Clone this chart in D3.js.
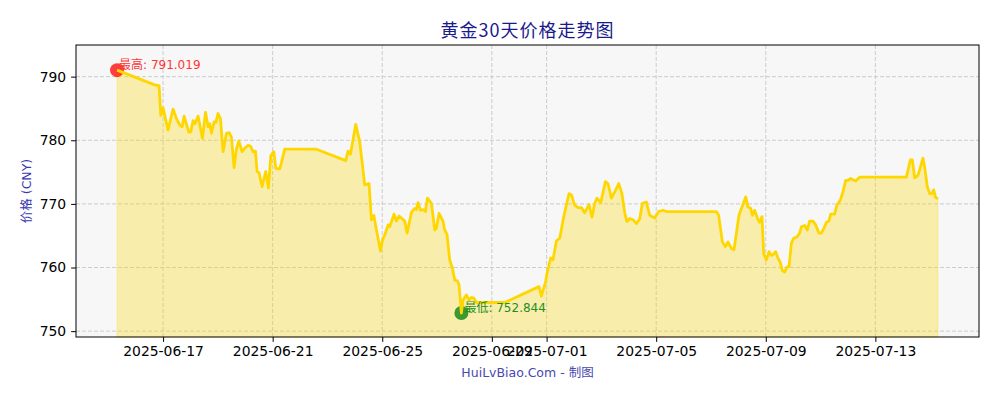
<!DOCTYPE html>
<html>
<head>
<meta charset="utf-8">
<script src="https://cdn.jsdelivr.net/npm/d3@7"></script>
<style>
  body { margin: 0; background: #fff; }
  svg { display: block; }
  .tick text { font-family: "DejaVu Sans", sans-serif; font-size: 13.9px; fill: #000; }
</style>
</head>
<body>
<svg width="1000" height="400"></svg>
<script>
const times = [
  "2025-06-15 07:40", "2025-06-16 16:40", "2025-06-16 20:30", "2025-06-16 22:00", "2025-06-17 00:00",
  "2025-06-17 04:20", "2025-06-17 08:45", "2025-06-17 11:45", "2025-06-17 14:40", "2025-06-17 16:40",
  "2025-06-17 18:25", "2025-06-17 22:30", "2025-06-18 00:15", "2025-06-18 02:15", "2025-06-18 03:45",
  "2025-06-18 06:40", "2025-06-18 10:30", "2025-06-18 13:10", "2025-06-18 15:25", "2025-06-18 16:55",
  "2025-06-18 18:25", "2025-06-18 20:40", "2025-06-18 22:10", "2025-06-19 00:10", "2025-06-19 02:15",
  "2025-06-19 04:35", "2025-06-19 07:30", "2025-06-19 09:50", "2025-06-19 11:55", "2025-06-19 14:10",
  "2025-06-19 16:15", "2025-06-19 18:20", "2025-06-19 21:10", "2025-06-19 23:20", "2025-06-20 02:25",
  "2025-06-20 04:35", "2025-06-20 06:50", "2025-06-20 08:55", "2025-06-20 10:20", "2025-06-20 12:05",
  "2025-06-20 14:45", "2025-06-20 17:55", "2025-06-20 20:20", "2025-06-20 22:20", "2025-06-21 01:00",
  "2025-06-21 02:45", "2025-06-21 06:15", "2025-06-21 10:35", "2025-06-22 14:20", "2025-06-23 16:00",
  "2025-06-23 18:00", "2025-06-23 20:10", "2025-06-24 00:45", "2025-06-24 04:15", "2025-06-24 08:40",
  "2025-06-24 12:25", "2025-06-24 14:30", "2025-06-24 16:35", "2025-06-24 18:55", "2025-06-24 22:25",
  "2025-06-25 00:10", "2025-06-25 02:50", "2025-06-25 05:05", "2025-06-25 06:35", "2025-06-25 10:20",
  "2025-06-25 12:25", "2025-06-25 14:45", "2025-06-25 19:45", "2025-06-25 21:45", "2025-06-26 01:35",
  "2025-06-26 04:30", "2025-06-26 05:55", "2025-06-26 07:20", "2025-06-26 09:30", "2025-06-26 11:45",
  "2025-06-26 13:50", "2025-06-26 15:35", "2025-06-26 19:05", "2025-06-26 22:00", "2025-06-26 23:30",
  "2025-06-27 01:45", "2025-06-27 05:15", "2025-06-27 06:45", "2025-06-27 08:45", "2025-06-27 11:05",
  "2025-06-27 13:30", "2025-06-27 15:30", "2025-06-27 17:50", "2025-06-27 19:15", "2025-06-27 21:20",
  "2025-06-27 22:45", "2025-06-28 01:45", "2025-06-28 04:00", "2025-06-28 06:10", "2025-06-28 08:10",
  "2025-06-28 10:30", "2025-06-29 11:20", "2025-06-30 17:20", "2025-06-30 19:25", "2025-06-30 23:10",
  "2025-07-01 00:20", "2025-07-01 03:35", "2025-07-01 05:35", "2025-07-01 08:35", "2025-07-01 11:30",
  "2025-07-01 15:00", "2025-07-01 19:35", "2025-07-01 21:45", "2025-07-02 00:35", "2025-07-02 03:30",
  "2025-07-02 06:30", "2025-07-02 09:20", "2025-07-02 13:10", "2025-07-02 15:45", "2025-07-02 18:10",
  "2025-07-02 20:10", "2025-07-02 23:25", "2025-07-03 03:30", "2025-07-03 05:45", "2025-07-03 08:45",
  "2025-07-03 11:40", "2025-07-03 15:10", "2025-07-03 18:00", "2025-07-03 20:25", "2025-07-03 22:25",
  "2025-07-04 00:45", "2025-07-04 03:40", "2025-07-04 06:40", "2025-07-04 09:30", "2025-07-04 11:55",
  "2025-07-04 15:25", "2025-07-04 18:20", "2025-07-04 22:40", "2025-07-05 02:10", "2025-07-05 05:55",
  "2025-07-05 08:55", "2025-07-07 04:45", "2025-07-07 06:45", "2025-07-07 10:00", "2025-07-07 12:35",
  "2025-07-07 14:55", "2025-07-07 17:50", "2025-07-07 20:10", "2025-07-08 00:30", "2025-07-08 06:25",
  "2025-07-08 08:25", "2025-07-08 10:45", "2025-07-08 12:15", "2025-07-08 14:15", "2025-07-08 17:10",
  "2025-07-08 18:40", "2025-07-08 20:40", "2025-07-08 22:10", "2025-07-09 00:30", "2025-07-09 02:50",
  "2025-07-09 04:55", "2025-07-09 06:20", "2025-07-09 08:40", "2025-07-09 10:40", "2025-07-09 12:45",
  "2025-07-09 14:30", "2025-07-09 16:35", "2025-07-09 18:35", "2025-07-09 20:20", "2025-07-09 22:25",
  "2025-07-10 00:25", "2025-07-10 03:20", "2025-07-10 05:40", "2025-07-10 07:10", "2025-07-10 10:05",
  "2025-07-10 12:25", "2025-07-10 14:25", "2025-07-10 17:20", "2025-07-10 19:40", "2025-07-10 22:35",
  "2025-07-11 00:40", "2025-07-11 03:00", "2025-07-11 05:05", "2025-07-11 07:20", "2025-07-11 08:50",
  "2025-07-11 12:20", "2025-07-11 14:20", "2025-07-11 17:20", "2025-07-11 19:35", "2025-07-11 22:00",
  "2025-07-12 00:00", "2025-07-12 02:20", "2025-07-12 04:20", "2025-07-12 06:45", "2025-07-12 10:15",
  "2025-07-14 03:10", "2025-07-14 06:40", "2025-07-14 08:25", "2025-07-14 10:25", "2025-07-14 13:20",
  "2025-07-14 14:45", "2025-07-14 17:40", "2025-07-14 19:10", "2025-07-14 21:30", "2025-07-14 23:35",
  "2025-07-15 01:35", "2025-07-15 03:05", "2025-07-15 04:50", "2025-07-15 06:50"
];

const prices = [
  791.019, 788.7, 788.6, 783.9, 785.1, 781.6, 784.9, 783.4, 782.4, 782.1,
  783.8, 781.3, 781.3, 783.1, 782.6, 783.8, 780.3, 784.4, 782.1, 782.6,
  781.1, 782.9, 782.8, 784.2, 783.4, 778.2, 781.1, 781.2, 780.5, 775.7,
  778.6, 779.9, 778.2, 778.7, 779.2, 779.1, 778.2, 778.3, 775.1, 774.9,
  772.7, 775.1, 772.5, 777.6, 778.2, 775.6, 775.5, 778.6, 778.6, 776.8,
  778.3, 777.8, 782.5, 779.8, 773.0, 773.2, 767.5, 768.2, 765.9, 762.6,
  764.3, 765.4, 766.7, 766.4, 768.4, 767.3, 768.1, 767.3, 765.4, 768.7,
  769.3, 769.1, 770.2, 769.0, 769.1, 768.8, 770.9, 770.1, 765.9, 766.2,
  768.5, 767.3, 765.9, 765.2, 761.2, 759.9, 758.0, 757.9, 757.3, 752.844,
  754.9, 755.7, 754.9, 755.3, 755.2, 754.5, 754.5, 757.0, 755.5, 757.8,
  759.1, 761.5, 761.2, 764.2, 764.6, 768.0, 771.6, 771.4, 769.8, 769.4,
  769.4, 768.6, 769.9, 767.9, 770.1, 770.9, 770.2, 773.5, 773.2, 770.9,
  771.9, 773.2, 771.6, 768.6, 767.2, 767.7, 767.5, 766.9, 767.6, 770.1,
  770.3, 768.2, 767.8, 768.8, 769.0, 768.8, 768.8, 768.2, 764.0, 763.3,
  764.0, 763.0, 762.8, 768.2, 771.1, 769.5, 769.3, 768.2, 769.0, 767.5,
  767.1, 768.0, 762.2, 761.2, 762.5, 761.9, 762.0, 762.5, 761.5, 760.8,
  759.5, 759.3, 760.1, 760.1, 763.8, 764.6, 764.8, 765.4, 766.4, 766.6,
  765.9, 767.3, 767.3, 766.7, 765.4, 765.4, 766.2, 767.1, 767.3, 768.4,
  768.4, 769.8, 770.6, 771.9, 773.7, 773.7, 774.0, 773.8, 773.6, 774.2,
  774.2, 776.9, 776.9, 774.1, 774.5, 775.3, 777.2, 775.8, 772.7, 771.6,
  771.6, 772.2, 771.0, 770.8
];

const xTickLabels = ["2025-06-17", "2025-06-21", "2025-06-25", "2025-06-29",
                     "2025-07-01", "2025-07-05", "2025-07-09", "2025-07-13"];
const yTickValues = [750, 760, 770, 780, 790];

const svg = d3.select("svg"),
      margin = { top: 45, right: 21, bottom: 63, left: 76 },
      width = +svg.attr("width") - margin.left - margin.right,
      height = +svg.attr("height") - margin.top - margin.bottom;

const parseTime = d3.timeParse("%Y-%m-%d %H:%M"),
      parseDay = d3.timeParse("%Y-%m-%d");

const data = times.map((t, i) => ({ date: parseTime(t), price: prices[i] }));

// matplotlib-style 5% margin on the time axis
const [t0, t1] = d3.extent(data, d => d.date);
const pad = (t1 - t0) * 0.05;

const x = d3.scaleTime()
    .domain([new Date(+t0 - pad), new Date(+t1 + pad)])
    .range([0, width]);

const minP = d3.min(prices), maxP = d3.max(prices);
const y = d3.scaleLinear()
    .domain([minP * 0.995, maxP * 1.005])
    .range([height, 0]);

const chart = svg.append("g")
    .attr("transform", `translate(${margin.left},${margin.top})`);

chart.append("rect")
    .attr("width", width)
    .attr("height", height)
    .attr("fill", "#f7f7f7");

const xTicks = xTickLabels.map(parseDay);

// grid
chart.append("g")
    .selectAll("line")
    .data(xTicks)
    .join("line")
    .attr("x1", d => x(d)).attr("x2", d => x(d))
    .attr("y1", 0).attr("y2", height)
    .attr("stroke", "#c2c2c2").attr("stroke-width", 0.8)
    .attr("stroke-dasharray", "4,2");

chart.append("g")
    .selectAll("line")
    .data(yTickValues)
    .join("line")
    .attr("x1", 0).attr("x2", width)
    .attr("y1", d => y(d)).attr("y2", d => y(d))
    .attr("stroke", "#c2c2c2").attr("stroke-width", 0.8)
    .attr("stroke-dasharray", "4,2");

// area + line
const area = d3.area()
    .x(d => x(d.date))
    .y0(height)
    .y1(d => y(d.price));

chart.append("path")
    .datum(data)
    .attr("d", area)
    .attr("fill", "#ffd700")
    .attr("fill-opacity", 0.3)
    .attr("stroke", "#ffd700")
    .attr("stroke-opacity", 0.3);

// extreme markers (drawn under the line)
const maxPt = data.find(d => d.price === maxP),
      minPt = data.find(d => d.price === minP);

chart.append("circle")
    .attr("cx", x(maxPt.date)).attr("cy", y(maxPt.price)).attr("r", 7)
    .attr("fill", "#ff0000").attr("fill-opacity", 0.75);

chart.append("circle")
    .attr("cx", x(minPt.date)).attr("cy", y(minPt.price)).attr("r", 7)
    .attr("fill", "#1a8a1a").attr("fill-opacity", 0.85);

const line = d3.line()
    .x(d => x(d.date))
    .y(d => y(d.price));

chart.append("path")
    .datum(data)
    .attr("d", line)
    .attr("fill", "none")
    .attr("stroke", "#ffd700")
    .attr("stroke-width", 2.8)
    .attr("stroke-linejoin", "round");

chart.append("text")
    .attr("x", x(maxPt.date) + 2).attr("y", y(maxPt.price) - 1)
    .attr("font-family", "'DejaVu Sans', 'Noto Sans CJK SC', sans-serif")
    .attr("font-size", 12)
    .attr("fill", "#ff3535")
    .text(`最高: ${maxP.toFixed(3)}`);

chart.append("text")
    .attr("x", x(minPt.date) + 3).attr("y", y(minPt.price) - 1)
    .attr("font-family", "'DejaVu Sans', 'Noto Sans CJK SC', sans-serif")
    .attr("font-size", 12)
    .attr("fill", "#1f8f1f")
    .text(`最低: ${minP.toFixed(3)}`);

// axes
chart.append("g")
    .attr("transform", `translate(0,${height})`)
    .call(d3.axisBottom(x).tickValues(xTicks).tickFormat(d3.timeFormat("%Y-%m-%d"))
        .tickSize(4.9).tickPadding(4.2))
    .call(g => g.select(".domain").remove());

chart.append("g")
    .call(d3.axisLeft(y).tickValues(yTickValues).tickSize(4.9).tickPadding(4.9))
    .call(g => g.select(".domain").remove());

chart.append("rect")
    .attr("width", width)
    .attr("height", height)
    .attr("fill", "none")
    .attr("stroke", "#000")
    .attr("stroke-width", 1);

// labels
svg.append("text")
    .attr("x", margin.left + width / 2).attr("y", 37)
    .attr("text-anchor", "middle")
    .attr("font-family", "'Noto Sans CJK SC', sans-serif")
    .attr("font-size", 18)
    .attr("fill", "#1a1a8c")
    .style("letter-spacing", "1px")
    .text("黄金30天价格走势图");

svg.append("text")
    .attr("transform", `translate(31,${margin.top + height / 2}) rotate(-90)`)
    .attr("text-anchor", "middle")
    .attr("font-family", "'DejaVu Sans', 'Noto Sans CJK SC', sans-serif")
    .attr("font-size", 12.5)
    .attr("fill", "#3838b0")
    .text("价格 (CNY)");

svg.append("text")
    .attr("x", margin.left + width / 2).attr("y", 377)
    .attr("text-anchor", "middle")
    .attr("font-family", "'DejaVu Sans', 'Noto Sans CJK SC', sans-serif")
    .attr("font-size", 12.5)
    .attr("fill", "#4848b0")
    .text("HuiLvBiao.Com - 制图");
</script>
</body>
</html>
